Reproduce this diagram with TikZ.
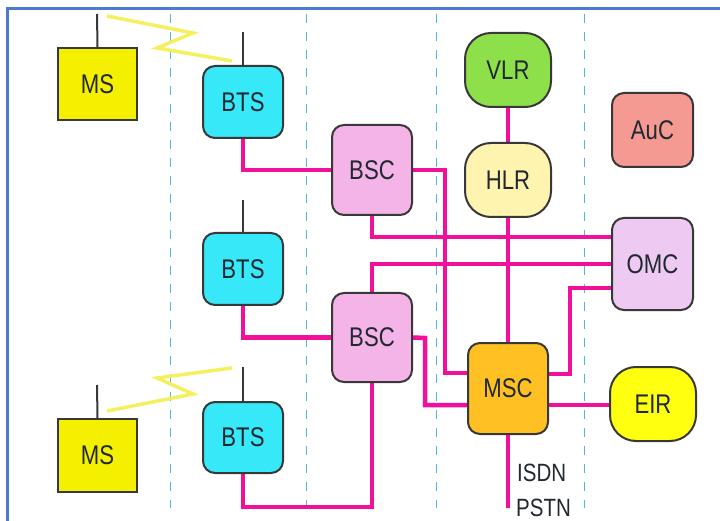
\documentclass[tikz,border=0pt]{standalone}
\usepackage{fontspec}
\usetikzlibrary{backgrounds}
\setmainfont{Liberation Sans}[FakeStretch=0.82]
\definecolor{framec}{HTML}{4A7BD0}
\definecolor{dashc}{HTML}{4FB8D8}
\definecolor{linkc}{HTML}{F0109A}
\definecolor{radioc}{HTML}{F4F060}
\definecolor{edgec}{HTML}{383838}
\definecolor{msc}{HTML}{F5F000}
\definecolor{btsc}{HTML}{36E8F8}
\definecolor{bscc}{HTML}{F5B4E8}
\definecolor{vlrc}{HTML}{8EE04A}
\definecolor{hlrc}{HTML}{FFF3B0}
\definecolor{aucc}{HTML}{F59A92}
\definecolor{omcc}{HTML}{EECAF2}
\definecolor{mscc}{HTML}{FFC024}
\definecolor{eirc}{HTML}{FFFF10}
\definecolor{textc}{HTML}{202830}
\begin{document}
\begin{tikzpicture}[x=1pt,y=-1pt,
  unit/.style={draw=edgec,line width=2pt,inner sep=0pt,text=textc,
    font=\fontsize{27}{27}\selectfont},
  sqbox/.style={unit,rectangle},
  rbox/.style={unit,rounded corners=12pt},
  pill/.style={unit,rounded corners=26pt},
  link/.style={draw=linkc,line width=4.5pt},
  antenna/.style={draw=edgec,line width=2pt},
  radio/.style={draw=radioc,line width=3.5pt},
  divider/.style={draw=dashc,line width=1pt,dash pattern=on 9pt off 9pt},
  plain/.style={text=textc,font=\fontsize{25}{25}\selectfont,inner sep=0pt,anchor=west}]
\useasboundingbox (0,0) rectangle (720,521);
% frame
\draw[framec,line width=3pt] (7,521) -- (7,9) -- (720,9);
% nodes
\node[sqbox,fill=msc,minimum width=79pt,minimum height=72pt] (ms1) at (97.5,84) {MS};
\node[sqbox,fill=msc,minimum width=79pt,minimum height=73pt] (ms2) at (97.5,455.5) {MS};
\node[rbox,fill=btsc,minimum width=80pt,minimum height=72pt] (bts1) at (243,102) {BTS};
\node[rbox,fill=btsc,minimum width=80pt,minimum height=72pt] (bts2) at (243,269) {BTS};
\node[rbox,fill=btsc,minimum width=80pt,minimum height=71pt] (bts3) at (243,437.5) {BTS};
\node[rbox,fill=bscc,minimum width=80pt,minimum height=90pt] (bsc1) at (372,170) {BSC};
\node[rbox,fill=bscc,minimum width=80pt,minimum height=89pt] (bsc2) at (372,337.5) {BSC};
\node[pill,fill=vlrc,minimum width=86pt,minimum height=74pt] (vlr) at (508,70) {VLR};
\node[pill,fill=hlrc,minimum width=86pt,minimum height=74pt] (hlr) at (508,180) {HLR};
\node[rbox,fill=aucc,minimum width=81pt,minimum height=74pt] (auc) at (652.5,130) {AuC};
\node[rbox,fill=omcc,minimum width=81pt,minimum height=92pt] (omc) at (652.5,264) {OMC};
\node[rbox,fill=mscc,minimum width=80pt,minimum height=91pt] (msc) at (508,388.5) {MSC};
\node[pill,fill=eirc,minimum width=86pt,minimum height=74pt] (eir) at (653,404) {EIR};
% antenna tips and radio link points
\coordinate (a1) at (97,14);
\coordinate (a2) at (243,32);
\coordinate (a3) at (243,200);
\coordinate (a4) at (243,367);
\coordinate (a5) at (97,385);
\coordinate (isdn) at (508,508);
\begin{scope}[on background layer]
\foreach \x in {170,306,436,584} \draw[divider] (\x,14) -- (\x,508);
\draw[antenna] (ms1.north) -- (a1);
\draw[antenna] (bts1.north) -- (a2);
\draw[antenna] (bts2.north) -- (a3);
\draw[antenna] (bts3.north) -- (a4);
\draw[antenna] (ms2.north) -- (a5);
\draw[radio] (107,16) -- (193,33) -- (157,48) -- (232,61);
\draw[radio] (107,411) -- (193,394) -- (157,378) -- (232,368);
% links
\draw[link] (bts1.south) |- (bsc1.west);
\draw[link] (bts2.south) |- (bsc2.west);
\draw[link] (bts3.south) |- (372,507) -- (bsc2.south);
\draw[link] (bsc1.east) -- (445,170) |- (msc.west |- 0,373);
\draw[link] (bsc1.south) |- (omc.west |- 0,237);
\draw[link] (bsc2.north) |- (omc.west |- 0,264);
\draw[link] (bsc2.east) -- (425,338) |- (msc.west |- 0,405);
\draw[link] (omc.west |- 0,288) -- (570,288) |- (msc.east |- 0,374);
\draw[link] (msc.east |- 0,405) -- (eir.west |- 0,405);
\draw[link] (vlr.south) -- (hlr.north);
\draw[link] (hlr.south) -- (msc.north);
\draw[link] (msc.south) -- (isdn);
\end{scope}
\node[plain] (t1) at (517,473) {ISDN};
\node[plain] (t2) at (516,508) {PSTN};
\end{tikzpicture}
\end{document}
